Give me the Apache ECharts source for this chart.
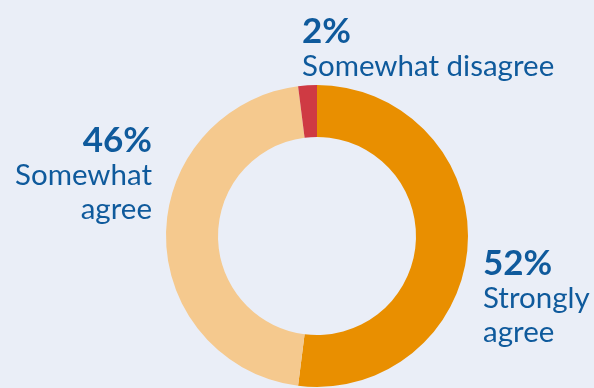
<!DOCTYPE html>
<html>
<head>
<meta charset="utf-8">
<script src="https://cdn.jsdelivr.net/npm/echarts@6/dist/echarts.min.js"></script>
<style>
html,body{margin:0;padding:0;background:#EAEEF7;}
#chart{width:594px;height:388px;}
</style>
</head>
<body>
<div id="chart"></div>
<script>
var categories = ['Strongly agree', 'Somewhat agree', 'Somewhat disagree'];
var values = [52, 46, 2];
var labelLines = [['Strongly', 'agree'], ['Somewhat', 'agree'], ['Somewhat disagree']];
var colors = ['#E98F00', '#F5C98E', '#CF3A43'];

var chart = echarts.init(document.getElementById('chart'), null, {renderer: 'canvas'});

var textColor = '#0F5A9C';
var pctSize = 35, nameSize = 29.5;
var labelPos = [
  {x: 483, y: 271, align: 'left'},
  {x: 152, y: 148, align: 'right'},
  {x: 302, y: 39, align: 'left'}
];
var graphics = [];
values.forEach(function (v, i) {
  var p = labelPos[i];
  graphics.push({
    type: 'text', x: p.x, y: p.y + 0.28 * pctSize,
    style: {text: v + '%', fill: textColor, font: 'bold ' + pctSize + 'px Lato', textAlign: p.align, textVerticalAlign: 'bottom'}
  });
  labelLines[i].forEach(function (line, j) {
    graphics.push({
      type: 'text', x: p.x, y: p.y + 34.5 + j * 34 + 0.28 * nameSize,
      style: {text: line, fill: textColor, font: nameSize + 'px Lato', textAlign: p.align, textVerticalAlign: 'bottom'}
    });
  });
});

chart.setOption({
  backgroundColor: '#EAEEF7',
  animation: false,
  series: [{
    type: 'pie',
    center: [317, 236],
    radius: [99, 151],
    startAngle: 90,
    clockwise: true,
    label: {show: false},
    labelLine: {show: false},
    data: categories.map(function (c, i) {
      return {name: c, value: values[i], itemStyle: {color: colors[i]}};
    })
  }],
  graphic: graphics
});
</script>
</body>
</html>
